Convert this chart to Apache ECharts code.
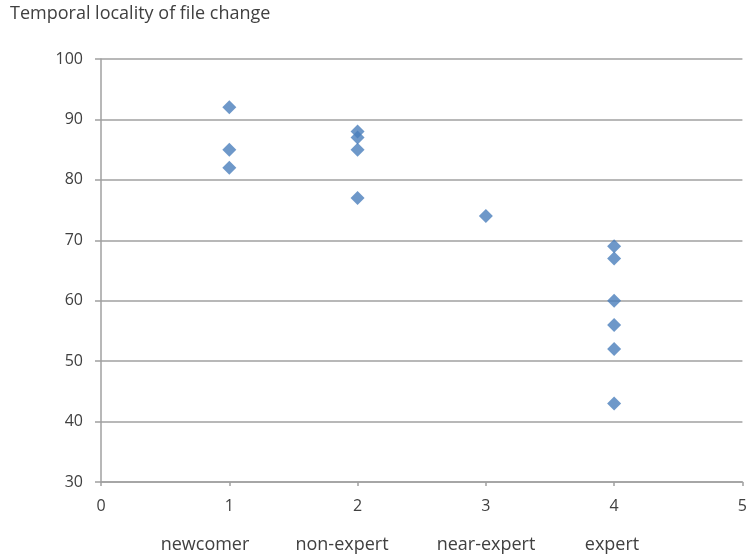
<!DOCTYPE html>
<html>
<head>
<meta charset="utf-8">
<script src="https://cdn.jsdelivr.net/npm/echarts@6/dist/echarts.min.js"></script>
<style>
  html, body { margin: 0; padding: 0; background: #fff; }
  #chart { width: 750px; height: 559px; }
</style>
</head>
<body>
<div id="chart"></div>
<script>
// Experience level (x) and temporal locality score (y) per developer
const levels = [1, 1, 1, 2, 2, 2, 2, 3, 4, 4, 4, 4, 4, 4];
const locality = [92, 85, 82, 88, 87, 85, 77, 74, 69, 67, 60, 56, 52, 43];
const groupNames = ['newcomer', 'non-expert', 'near-expert', 'expert'];
const groupLabelX = [205, 342, 486, 612];

const points = levels.map((x, i) => [x, locality[i]]);
const textColor = '#404040';
const axisGray = '#a0a0a0';
const font = '"Open Sans", "Noto Sans", sans-serif';

const chart = echarts.init(document.getElementById('chart'));
chart.setOption({
  animation: false,
  grid: { left: 101, right: 3, top: 59, bottom: 77 },
  xAxis: {
    type: 'value', min: 0, max: 5, interval: 1,
    axisLine: { lineStyle: { color: axisGray, width: 1.5 } },
    axisTick: { show: true, length: 4, lineStyle: { color: axisGray, width: 1.5 } },
    axisLabel: { color: textColor, fontFamily: font, fontSize: 16, margin: 16 },
    splitLine: { show: false }
  },
  yAxis: {
    type: 'value', min: 30, max: 100, interval: 10,
    axisLine: { show: true, lineStyle: { color: axisGray, width: 1.5 } },
    axisTick: { show: true, length: 6, lineStyle: { color: axisGray, width: 1.5 } },
    axisLabel: { color: textColor, fontFamily: font, fontSize: 16, margin: 18 },
    splitLine: { show: true, lineStyle: { color: axisGray, width: 1.5 } }
  },
  series: [{
    type: 'scatter',
    symbol: 'diamond',
    symbolSize: 14,
    itemStyle: { color: '#4a7ebb' },
    data: points
  }],
  graphic: [
    {
      type: 'text', left: 10, top: 5,
      style: { text: 'Temporal locality of file change', fill: textColor, font: '18px ' + font }
    }
  ].concat(groupNames.map((name, i) => ({
    type: 'text', x: groupLabelX[i], y: 545,
    style: { text: name, fill: textColor, font: '18px ' + font, align: 'center', verticalAlign: 'middle' }
  })))
});
</script>
</body>
</html>
